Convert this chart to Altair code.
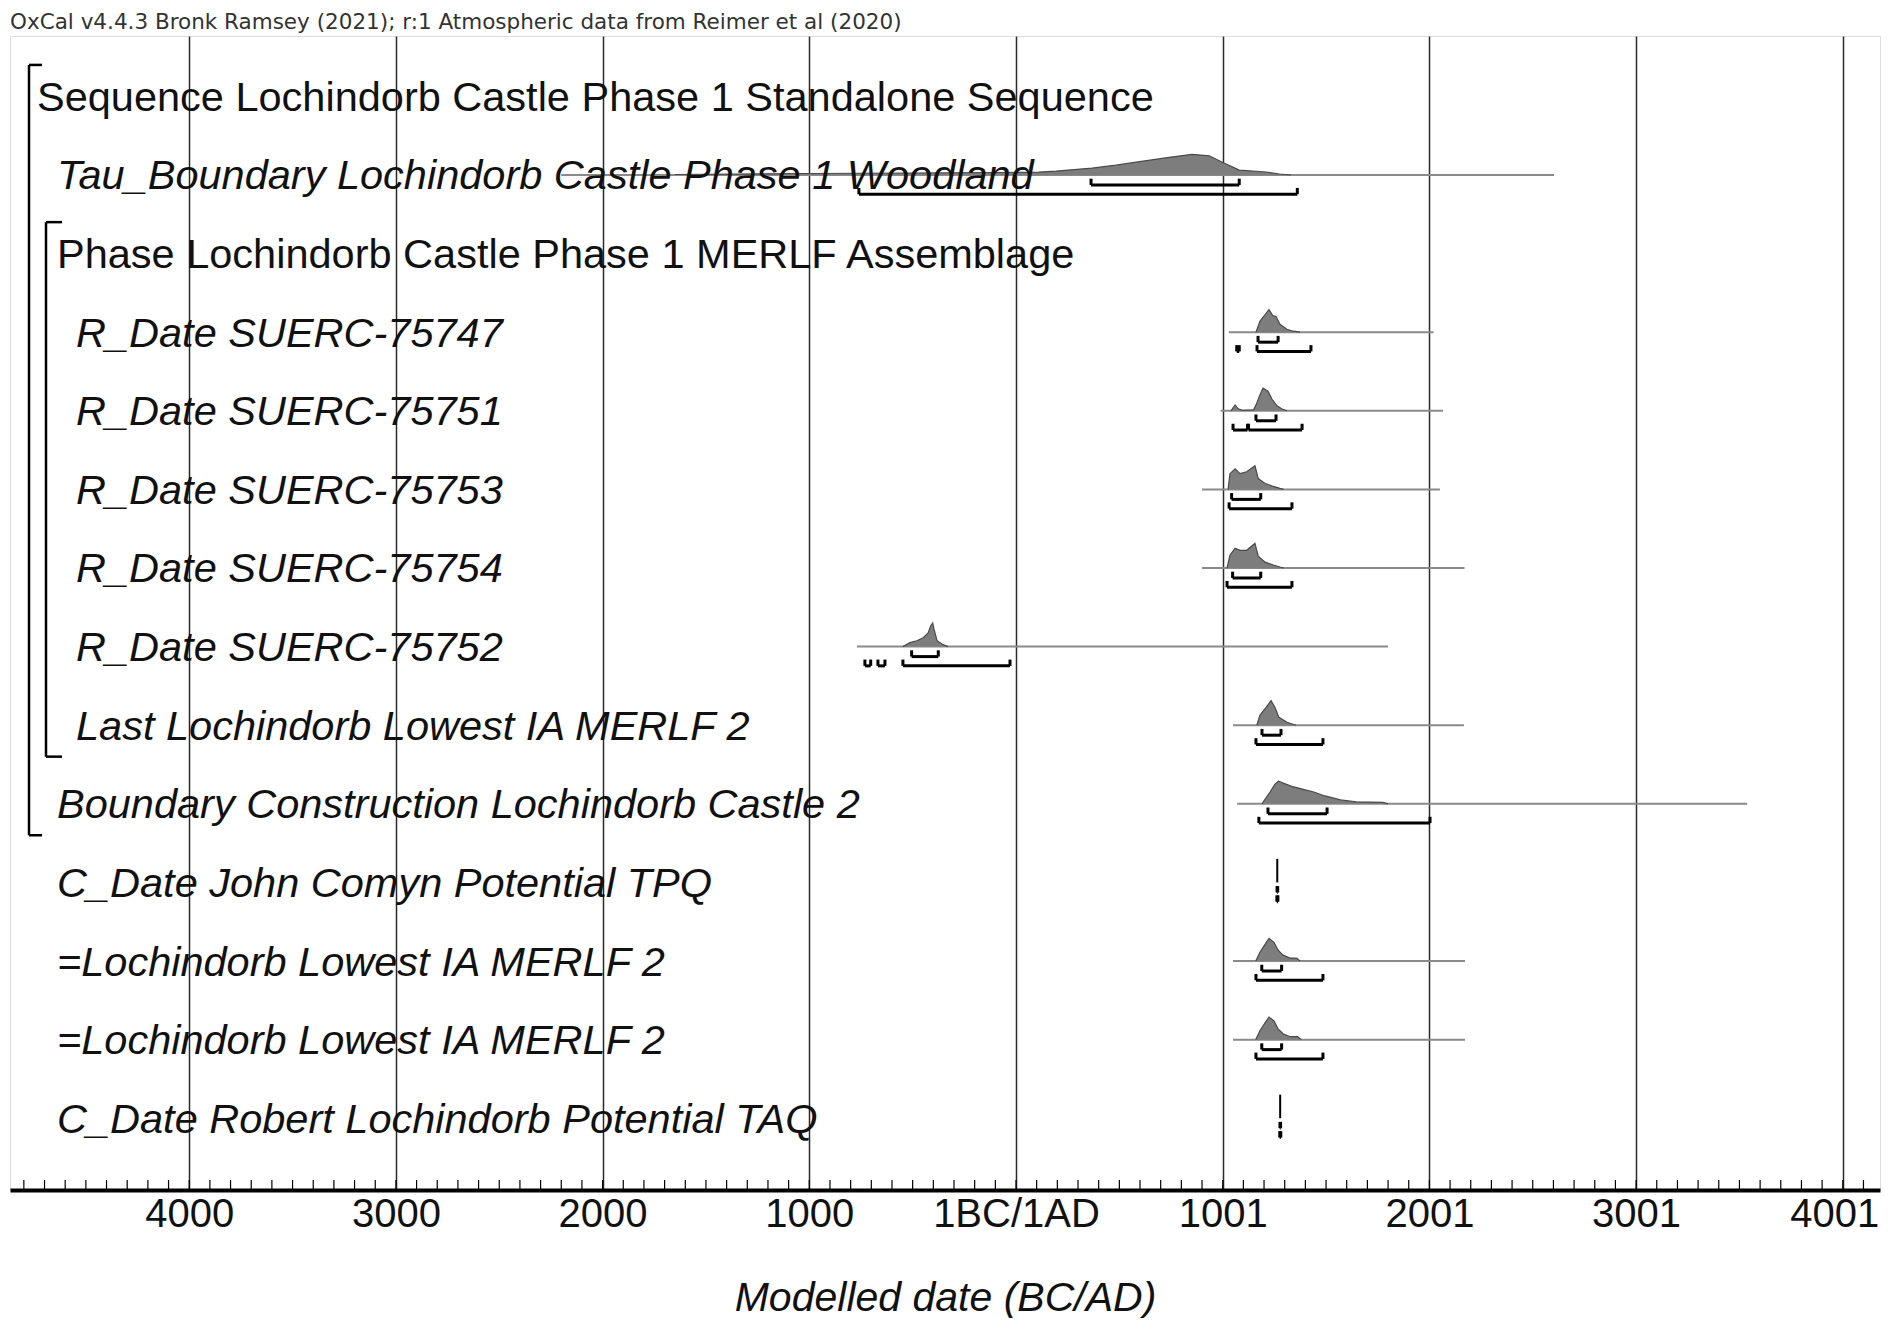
import altair as alt
import pandas as pd

# ---------------- data ----------------
HEADER = "OxCal v4.4.3 Bronk Ramsey (2021); r:1 Atmospheric data from Reimer et al (2020)"
X_TITLE = "Modelled date (BC/AD)"

labels = [
    "Sequence Lochindorb Castle Phase 1 Standalone Sequence",
    "Tau_Boundary Lochindorb Castle Phase 1 Woodland",
    "Phase Lochindorb Castle Phase 1 MERLF Assemblage",
    "R_Date SUERC-75747",
    "R_Date SUERC-75751",
    "R_Date SUERC-75753",
    "R_Date SUERC-75754",
    "R_Date SUERC-75752",
    "Last Lochindorb Lowest IA MERLF 2",
    "Boundary Construction Lochindorb Castle 2",
    "C_Date John Comyn Potential TPQ",
    "=Lochindorb Lowest IA MERLF 2",
    "=Lochindorb Lowest IA MERLF 2",
    "C_Date Robert Lochindorb Potential TAQ",
]
label_level = [0, 1, 1, 2, 2, 2, 2, 2, 2, 1, 1, 1, 1, 1]
label_italic = [False, True, False, True, True, True, True, True, True, True, True, True, True, True]

# posterior distributions (row, years, relative density)
dist_row = [1, 3, 4, 5, 6, 7, 8, 9, 11, 12]
dist_years = [
    [-1650, -1000, -500, -100, 111, 194, 368, 484, 581, 741, 852, 935, 998, 1080, 1211, 1274, 1330],
    [1161, 1180, 1205, 1224, 1242, 1258, 1277, 1310, 1342, 1374],
    [1040, 1060, 1075, 1095, 1150, 1165, 1180, 1195, 1219, 1238, 1263, 1285, 1311],
    [1026, 1035, 1060, 1084, 1116, 1156, 1172, 1205, 1245, 1277, 1295],
    [1021, 1035, 1060, 1084, 1116, 1156, 1172, 1205, 1245, 1277, 1295],
    [-547, -513, -480, -449, -425, -413, -403, -397, -382, -353, -329],
    [1165, 1180, 1209, 1234, 1253, 1272, 1311, 1355],
    [1190, 1229, 1253, 1270, 1330, 1385, 1441, 1495, 1570, 1645, 1775, 1800],
    [1160, 1180, 1205, 1224, 1248, 1268, 1292, 1326, 1358, 1374],
    [1160, 1180, 1205, 1224, 1248, 1268, 1292, 1326, 1362, 1380],
]
dist_dens = [
    [0.5, 1.5, 2, 2.5, 3, 4, 7, 10, 13, 18, 21, 19.5, 13, 5, 3, 1, 0],
    [0, 11, 18, 23, 17, 16, 8, 3, 1, 0],
    [0, 6, 2, 0.5, 1, 8, 16, 23, 20, 12, 5, 2, 0],
    [0, 16, 21, 16, 18, 24, 11, 6, 3, 1, 0],
    [0, 13, 20, 18, 18, 25, 12, 6, 3, 1, 0],
    [0, 4, 6, 9, 14, 21, 24, 18, 6, 2, 0],
    [0, 10, 18, 25, 18, 8, 3, 0],
    [0, 12, 20, 23, 18, 15, 12, 8, 4, 2, 1.5, 0],
    [0, 9, 17, 23, 19, 11, 6, 3, 3, 0],
    [0, 9, 17, 23, 19, 11, 6, 3, 3, 0],
]

# unmodelled (prior) extents, drawn as thin grey lines
prior_row = [1, 3, 4, 5, 6, 7, 8, 9, 11, 12]
prior_from = [-2200, 1030, 990, 900, 900, -770, 1050, 1070, 1050, 1050]
prior_to = [2603, 2020, 2066, 2051, 2170, 1800, 2167, 3537, 2172, 2172]

# highest posterior density ranges
r68_row = [1, 3, 4, 5, 6, 7, 8, 9, 10, 11, 12, 13]
r68_from = [363, 1171, 1161, 1043, 1048, -505, 1190, 1219, 1263, 1189, 1189, 1277]
r68_to = [1080, 1268, 1258, 1184, 1184, -376, 1282, 1505, 1266, 1285, 1285, 1280]

r95_row = [1, 3, 3, 4, 4, 5, 6, 7, 7, 7, 8, 9, 10, 11, 12, 13]
r95_from = [-760, 1068, 1166, 1050, 1125, 1031, 1021, -731, -668, -547, 1161, 1175, 1262, 1161, 1161, 1276]
r95_to = [1361, 1080, 1427, 1120, 1384, 1335, 1335, -703, -634, -29, 1485, 2003, 1267, 1485, 1485, 1281]

# C_Date point estimates
cdate_row = [10, 13]
cdate_year = [1264, 1278]

# grouping brackets (first row, last row)
group_first = [0, 2]
group_last = [9, 8]

axis_values = [-4000, -3000, -2000, -1000, 0, 1000, 2000, 3000, 4000]
minor_ticks = list(range(-4800, 4101, 100))

# ---------------- styles / layout ----------------
W, H = 1870, 1154
FONT = "Liberation Sans, Arial"
FS = 41.5
PEAK = 0.30          # row units for the density peak
DENS_MAX = 24.0
OFF68, OFF95, TICK = 0.127, 0.245, 0.08
LEVEL_PX = {0: 27, 1: 47, 2: 66}
BRACKET_X = [19, 36]
BRACKET_TICK = [32, 52]

xscale = alt.Scale(domain=[-4867, 4180], nice=False, zero=False)
yscale = alt.Scale(domain=[-0.768, 13.913], reverse=True, nice=False, zero=False)
xaxis = alt.Axis(
    values=axis_values,
    labelExpr="datum.value == 0 ? '1BC/1AD' : (datum.value < 0 ? '' + (-datum.value) : '' + (datum.value + 1))",
    grid=True, gridColor="#2a2a2a", gridWidth=1.5, gridOpacity=1,
    ticks=False, domain=True, domainColor="black", domainWidth=4,
    labelFont=FONT, labelFontSize=40, labelColor="#111", labelPadding=4,
    labelFlush=False, labelOverlap=False, labelLimit=0,
    labelAlign={"condition": {"test": "datum.value == 4000", "value": "right"}, "value": "center"},
    labelOffset={"condition": {"test": "datum.value == 4000", "value": 36}, "value": 0},
    title=X_TITLE, titleFont=FONT, titleFontSize=41, titleFontStyle="italic",
    titleFontWeight="normal", titleColor="#111", titlePadding=44,
)


def X(f):
    return alt.X(f, type="quantitative", scale=xscale, axis=xaxis)


def Y(f):
    return alt.Y(f, type="quantitative", scale=yscale, axis=None)


# ---------------- tables ----------------
drows = []
for r, ys, ds in zip(dist_row, dist_years, dist_dens):
    for yv, dv in zip(ys, ds):
        drows.append({"row": r, "year": yv, "top": r - dv / DENS_MAX * PEAK, "base": r})
dist_df = pd.DataFrame(drows)

prior_df = pd.DataFrame({"row": prior_row, "x0": prior_from, "x1": prior_to})

br = []
for rows, a, b, off in [(r68_row, r68_from, r68_to, OFF68), (r95_row, r95_from, r95_to, OFF95)]:
    for r, s, e in zip(rows, a, b):
        br.append({"y": r + off, "yt": r + off - TICK, "x0": s, "x1": e})
br_df = pd.DataFrame(br)
br_ends = pd.concat([
    br_df[["y", "yt"]].assign(x=br_df["x0"]),
    br_df[["y", "yt"]].assign(x=br_df["x1"]),
])

cdate_df = pd.DataFrame({"row": cdate_row, "year": cdate_year})
cdate_df["top"] = cdate_df["row"] - PEAK

lab_df = pd.DataFrame({"row": list(range(len(labels))), "label": labels,
                       "level": label_level, "italic": label_italic})

tick_df = pd.DataFrame({"year": minor_ticks})

# ---------------- layers ----------------
prior = alt.Chart(prior_df).mark_rule(color="#8a8a8a", strokeWidth=2).encode(
    x=X("x0"), x2="x1", y=Y("row"))

area = alt.Chart(dist_df).mark_area(color="#7d7d7d", opacity=1, interpolate="linear").encode(
    x=X("year"), y=Y("top"), y2="base", detail="row:N")

outline = alt.Chart(dist_df).mark_line(color="#4a4a4a", strokeWidth=1.2).encode(
    x=X("year"), y=Y("top"), detail="row:N")

br_h = alt.Chart(br_df).mark_rule(color="black", strokeWidth=3).encode(
    x=X("x0"), x2="x1", y=Y("y"))
br_v = alt.Chart(br_ends).mark_rule(color="black", strokeWidth=3).encode(
    x=X("x"), y=Y("y"), y2="yt")

spikes = alt.Chart(cdate_df).mark_rule(color="black", strokeWidth=2).encode(
    x=X("year"), y=Y("row"), y2="top")

ticks = alt.Chart(tick_df).mark_rule(color="black", strokeWidth=1.2).encode(
    x=X("year"), y=alt.value(H), y2=alt.value(H - 10))

text_layers = []
for lvl in sorted(LEVEL_PX):
    for it in (False, True):
        sub = lab_df[(lab_df.level == lvl) & (lab_df.italic == it)]
        if len(sub) == 0:
            continue
        text_layers.append(
            alt.Chart(sub).mark_text(
                align="left", baseline="middle", font=FONT, fontSize=FS, dy=2.5,
                fontStyle="italic" if it else "normal", color="#111",
            ).encode(x=alt.value(LEVEL_PX[lvl]), y=Y("row"), text="label:N")
        )

bracket_layers = []
for g0, g1, bx, tx in zip(group_first, group_last, BRACKET_X, BRACKET_TICK):
    gdf = pd.DataFrame({"a": [g0 - 0.4], "b": [g1 + 0.4]})
    bracket_layers.append(alt.Chart(gdf).mark_rule(color="black", strokeWidth=2.5).encode(
        x=alt.value(bx), y=Y("a"), y2="b"))
    edf = pd.DataFrame({"e": [g0 - 0.4, g1 + 0.4]})
    bracket_layers.append(alt.Chart(edf).mark_rule(color="black", strokeWidth=2.5).encode(
        x=alt.value(bx), x2=alt.value(tx), y=Y("e")))

header = alt.Chart(pd.DataFrame({"t": [HEADER]})).mark_text(
    align="left", baseline="middle", font="DejaVu Sans, Liberation Sans", fontSize=21.5, color="#333"
).encode(x=alt.value(0), y=alt.value(-13), text="t:N")

chart = alt.layer(
    prior, area, outline, br_h, br_v, spikes, ticks, *text_layers, *bracket_layers, header
).properties(
    width=W, height=H,
    autosize=alt.AutoSizeParams(type="none"),
    padding={"left": 2, "top": 28, "right": 1, "bottom": 128},
).configure_view(stroke="black", strokeWidth=2.5).configure(background="white")

chart.save("out.html", embed_options={"renderer": "svg", "actions": False})
